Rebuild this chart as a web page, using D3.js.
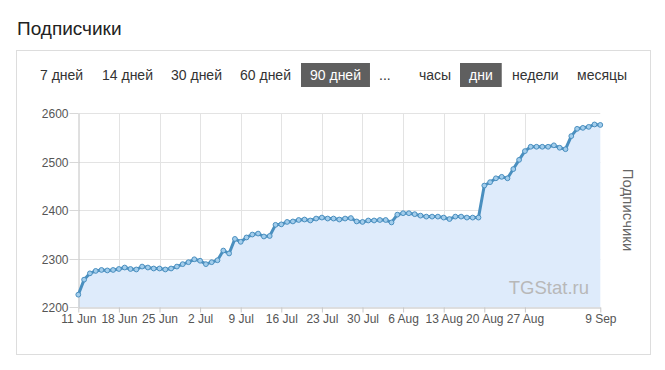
<!DOCTYPE html>
<html><head><meta charset="utf-8">
<script src="https://cdn.jsdelivr.net/npm/d3@7/dist/d3.min.js"></script>
<style>
body{margin:0;background:#fff;font-family:"Liberation Sans",Arial,sans-serif;}
svg{display:block;}
</style></head>
<body>
<svg id="c" width="665" height="370"></svg>
<script>
const title = "Подписчики";
const axisTitle = "Подписчики";
const watermark = "TGStat.ru";
const periodButtons = ["7 дней","14 дней","30 дней","60 дней","90 дней","...","часы","дни","недели","месяцы"];
const activeButtons = ["90 дней","дни"];
const startDate = "2018-06-11";
const subscribers = [
 2226,2257,2270,2275,2277,2276,2277,2279,2282,2279,
 2278,2284,2282,2280,2280,2278,2280,2284,2289,2293,
 2299,2296,2289,2293,2297,2317,2311,2341,2335,2344,
 2350,2352,2346,2347,2370,2371,2376,2377,2380,2381,
 2379,2383,2385,2383,2383,2381,2383,2384,2377,2376,
 2379,2379,2380,2380,2375,2391,2394,2394,2392,2389,
 2387,2387,2387,2385,2382,2387,2387,2385,2385,2385,
 2451,2458,2466,2469,2466,2485,2504,2522,2531,2531,
 2531,2531,2534,2529,2526,2553,2568,2570,2572,2577,2576
];
const yTicks = [2200,2300,2400,2500,2600];
const xTickDates = ["2018-06-11","2018-06-18","2018-06-25","2018-07-02","2018-07-09","2018-07-16","2018-07-23","2018-07-30","2018-08-06","2018-08-13","2018-08-20","2018-08-27","2018-09-09"];
const xTickLabels = ["11 Jun","18 Jun","25 Jun","2 Jul","9 Jul","16 Jul","23 Jul","30 Jul","6 Aug","13 Aug","20 Aug","27 Aug","9 Sep"];

const parse = d3.utcParse("%Y-%m-%d");
const t0 = parse(startDate);
const data = subscribers.map((v,i)=>({date:d3.utcDay.offset(t0,i), value:v}));

const svg = d3.select("#c");
const font = '"Liberation Sans",Arial,sans-serif';

// title
svg.append("text").attr("x",17).attr("y",35).attr("font-size",19).attr("fill","#222").attr("font-family",font).text(title);

// panel box
svg.append("rect").attr("x",16.5).attr("y",50.5).attr("width",634).attr("height",304).attr("fill","#fff").attr("stroke","#ddd");

// buttons
const btnX = [40,102,171,240,310,379,419,469,512,577];
const bg = svg.append("g");
const btns = svg.append("g").attr("font-size",14).attr("font-family",font);
periodButtons.forEach((b,i)=>{
  const active = activeButtons.includes(b);
  const t = btns.append("text").attr("x",btnX[i]).attr("y",80).attr("fill",active?"#fff":"#333").text(b);
  if(active){
    const w = t.node().getComputedTextLength();
    bg.append("rect").attr("x",btnX[i]-9).attr("y",63).attr("width",w+18).attr("height",24).attr("fill","#5f5f5f");
  }
});

const m = {left:78.3, right:600.3, top:113.3, bottom:307.3};
const x = d3.scaleUtc().domain([data[0].date, data[data.length-1].date]).range([m.left,m.right]);
const y = d3.scaleLinear().domain([2200,2600]).range([m.bottom,m.top]);

// gridlines
const grid = svg.append("g");
grid.selectAll("line.h").data(yTicks.slice(1)).join("line")
  .attr("x1",m.left).attr("x2",m.right).attr("y1",d=>Math.round(y(d))+0.5).attr("y2",d=>Math.round(y(d))+0.5)
  .attr("stroke","#e3e3e3");
grid.selectAll("line.v").data(xTickDates.slice(1,-1)).join("line")
  .attr("x1",d=>Math.round(x(parse(d)))+0.5).attr("x2",d=>Math.round(x(parse(d)))+0.5)
  .attr("y1",m.top).attr("y2",m.bottom).attr("stroke","#e3e3e3");

// area
const area = d3.area().x(d=>x(d.date)).y0(y(2200)).y1(d=>y(d.value));
svg.append("path").datum(data).attr("d",area).attr("fill","#deebfb");

// axes
const xAxis = d3.axisBottom(x).tickValues(xTickDates.map(parse)).tickFormat((d,i)=>xTickLabels[i]).tickSize(5).tickSizeOuter(0);
const gx = svg.append("g").attr("transform",`translate(0,${Math.round(m.bottom)+0.5})`).call(xAxis);
gx.select(".domain").attr("stroke","#c0c0c0");
gx.selectAll(".tick line").attr("stroke","#c8c8c8");
gx.selectAll(".tick text").attr("fill","#555").attr("font-size",12).attr("font-family",font).attr("dy","0.9em").attr("y",5);

const yAxis = d3.axisLeft(y).tickValues(yTicks).tickFormat(d3.format("d")).tickSize(9).tickSizeOuter(0);
const gy = svg.append("g").attr("transform",`translate(${Math.round(m.left)+0.5},0)`).call(yAxis);
gy.select(".domain").attr("stroke","#c0c0c0");
gy.selectAll(".tick line").attr("stroke","#d8d8d8");
gy.selectAll(".tick text").attr("fill","#555").attr("font-size",12).attr("font-family",font).attr("x",-10).attr("dy","0.35em");
gy.selectAll(".tick").attr("transform",d=>`translate(0,${Math.round(y(d))+0.5})`);

// watermark
svg.append("text").attr("x",589).attr("y",294).attr("text-anchor","end").attr("font-size",18.5).attr("fill","#b8b8b8").attr("font-family",font).text(watermark);

// line
const line = d3.line().x(d=>x(d.date)).y(d=>y(d.value));
svg.append("path").datum(data).attr("d",line).attr("fill","none").attr("stroke","#4a8fbf").attr("stroke-width",3).attr("stroke-linejoin","round");
svg.append("g").selectAll("circle").data(data).join("circle")
  .attr("cx",d=>x(d.date)).attr("cy",d=>y(d.value)).attr("r",2.4)
  .attr("fill","#a2cdec").attr("stroke","#4a8fbf").attr("stroke-width",1);

// right axis title
svg.append("text").attr("transform","translate(623,210) rotate(90)").attr("text-anchor","middle")
  .attr("font-size",15).attr("fill","#666").attr("font-family",font).text(axisTitle);
</script>
</body></html>
